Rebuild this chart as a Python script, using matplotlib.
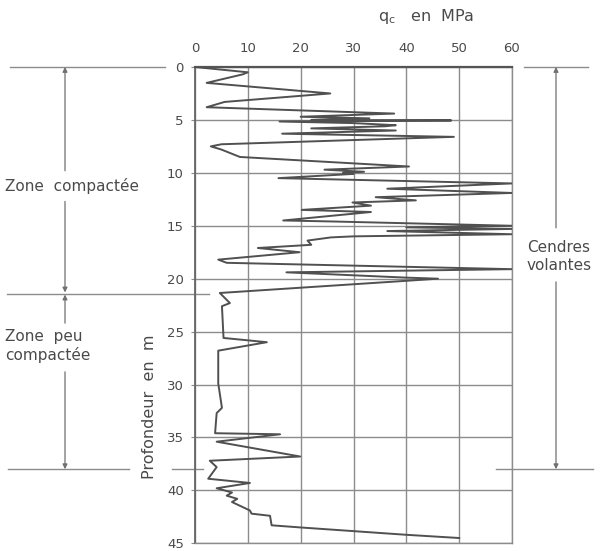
import matplotlib
matplotlib.use("Agg")
import matplotlib.pyplot as plt
from matplotlib.transforms import blended_transform_factory

# ---- data ----
depth_m = [0.0, 0.2, 0.5, 0.7, 1.5, 2.5, 3.3, 3.8, 4.4, 4.7, 4.85, 5.0, 5.05, 5.15, 5.3, 5.5,
           5.6, 5.8, 6.0, 6.3, 6.6, 7.3, 7.5, 7.8, 8.5, 9.4, 9.7, 9.9, 10.0, 10.1, 10.5, 11.0,
           11.5, 11.9, 12.3, 12.6, 12.8, 13.1, 13.5, 13.7, 14.5, 14.6, 15.0, 15.15, 15.3, 15.5,
           15.8, 16.0, 16.1, 16.4, 16.8, 17.1, 17.5, 18.2, 18.5, 19.1, 19.4, 19.9, 20.0, 20.2,
           21.35, 22.3, 22.6, 25.6, 26.0, 26.8, 29.9, 32.2, 32.7, 34.6, 34.7, 35.4, 36.8, 37.2,
           37.8, 38.9, 39.3, 39.8, 40.2, 40.5, 40.8, 41.1, 41.9, 42.2, 42.4, 43.3, 43.5, 44.2, 44.5]
qc_mpa = [0.0, 4.0, 10.0, 9.0, 2.2, 25.6, 5.6, 2.2, 37.7, 20.0, 33.0, 22.0, 48.5, 16.0, 30.0, 38.0,
          36.0, 22.0, 38.0, 16.5, 49.0, 5.0, 3.0, 5.0, 8.5, 40.5, 24.5, 32.0, 28.0, 30.0, 15.8, 60.0,
          36.4, 60.0, 34.2, 41.8, 29.8, 33.3, 20.2, 33.3, 16.7, 26.5, 60.0, 40.0, 60.0, 36.4,
          60.0, 30.0, 25.7, 21.3, 22.0, 11.9, 19.8, 4.4, 6.0, 60.0, 17.3, 40.0, 46.0, 40.0,
          4.7, 6.6, 5.1, 5.4, 13.6, 4.4, 4.4, 5.1, 4.1, 3.8, 16.1, 4.1, 19.9, 2.8,
          4.1, 2.5, 10.4, 4.1, 7.0, 6.0, 8.0, 7.0, 10.4, 10.7, 14.2, 14.5, 19.9, 40.1, 50.0]

x_ticks = [0, 10, 20, 30, 40, 50, 60]
y_ticks = [0, 5, 10, 15, 20, 25, 30, 35, 40, 45]
zone_bounds = [0.0, 21.4, 38.0]
zone_labels = ["Zone  compactée", "Zone  peu\ncompactée"]
right_label = "Cendres\nvolantes"

W, H = 601, 551
TXT = "#4a4a4a"
GRID = "#8c8c8c"
LINE = "#505050"

plt.rcParams['font.family'] = ['DejaVu Sans']
fig = plt.figure(figsize=(W / 100, H / 100), dpi=100)
ax = fig.add_axes([195 / W, 1 - 543.3 / H, 317 / W, (543.3 - 67) / H])

ax.plot(qc_mpa, depth_m, color=LINE, lw=1.4, zorder=3)

ax.set_xlim(0, 60)
ax.set_ylim(45, 0)
ax.xaxis.tick_top()
ax.set_xticks(x_ticks)
ax.set_yticks(y_ticks)
ax.tick_params(axis='x', length=0, pad=9, labelsize=9.5, labelcolor=TXT)
ax.tick_params(axis='y', length=3, pad=5, labelsize=9.5, labelcolor=TXT, color=GRID)
ax.grid(True, color=GRID, lw=1.0)
for s in ax.spines.values():
    s.set_color(GRID)
    s.set_linewidth(1.0)
ax.spines['top'].set_color("#555555")
ax.spines['top'].set_linewidth(1.6)
ax.spines['left'].set_color("#666666")
ax.spines['left'].set_linewidth(1.3)

# title and axis label
fig.text(426 / W, 1 - 17 / H, r"$\mathregular{q_c}$   en  MPa", ha='center', va='center',
         fontsize=11.5, color=TXT)
fig.text(150 / W, 1 - 407 / H, "Profondeur  en  m", rotation=90, ha='center', va='center',
         fontsize=11.5, color=TXT)

# annotations outside the axes
tr = blended_transform_factory(fig.transFigure, ax.transData)

def hline(x0, x1, d):
    ax.plot([x0 / W, x1 / W], [d, d], transform=tr, color=GRID, lw=1.0, clip_on=False)

def arrow(x, d_from, d_to):
    ax.annotate("", xy=(x / W, d_to), xycoords=tr, xytext=(x / W, d_from), textcoords=tr,
                arrowprops=dict(arrowstyle='-|>', color="#707070", lw=0.9,
                                mutation_scale=7, shrinkA=0, shrinkB=0),
                annotation_clip=False)

# left boundary lines
hline(10, 165, zone_bounds[0])
hline(7, 209, zone_bounds[1])
hline(8, 129, zone_bounds[2])
hline(172, 203, zone_bounds[2])
# right boundary lines
hline(524, 588, zone_bounds[0])
hline(496, 593, zone_bounds[2])

xl, xr = 65, 556
arrow(xl, 9.8, zone_bounds[0])
arrow(xl, 12.7, zone_bounds[1] - 0.1)
arrow(xl, 24.2, zone_bounds[1] + 0.1)
arrow(xl, 28.8, zone_bounds[2])
arrow(xr, 15.2, zone_bounds[0])
arrow(xr, 20.3, zone_bounds[2])

fig.text(5 / W, 1 - 186 / H, zone_labels[0], ha='left', va='center', fontsize=11, color=TXT)
fig.text(5 / W, 1 - 346 / H, zone_labels[1], ha='left', va='center', fontsize=11,
         color=TXT, linespacing=1.25)
fig.text(559 / W, 1 - 256 / H, right_label, ha='center', va='center', fontsize=11,
         color=TXT, linespacing=1.25)

fig.savefig("out.png", dpi=100)
